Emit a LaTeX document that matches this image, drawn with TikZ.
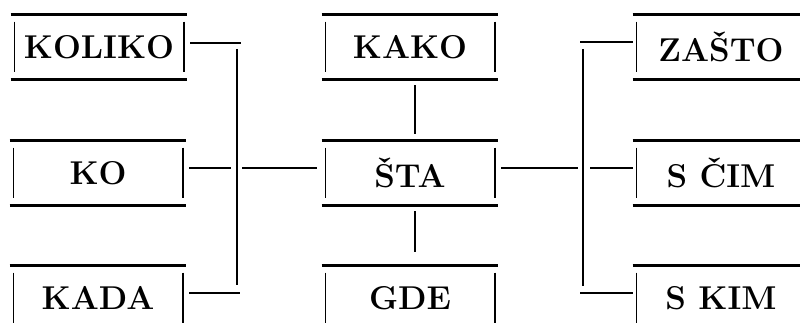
\documentclass[tikz,border=0pt]{standalone}
\usepackage{fontspec}
\begin{document}
\begin{tikzpicture}[x=0.5pt, y=-0.5pt,
        word/.style={minimum width=88pt, minimum height=32pt, inner sep=0pt,
            font=\fontsize{16.5}{18}\selectfont\bfseries},
        rule/.style={line width=1.3pt},
        side/.style={line width=0.8pt},
        link/.style={line width=0.8pt}]

        \useasboundingbox (0,0) rectangle (800,324);

        % Words
        \node[word] (koliko) at (99,47) {KOLIKO};
        \node[word] (ko) at (98,173) {KO};
        \node[word] (kada) at (98,298) {KADA};
        \node[word] (kako) at (410,47) {KAKO};
        \node[word] (sta) at (410,173) {ŠTA};
        \node[word] (gde) at (410,298) {GDE};
        \node[word] (zasto) at (721,47) {ZAŠTO};
        \node[word] (scim) at (721,173) {S ČIM};
        \node[word] (skim) at (721,298) {S KIM};

        % Frames
        \foreach \n in {koliko,ko,kada,kako,sta,gde,zasto,scim,skim} {
            \draw[rule] (\n.north west) -- (\n.north east);
            \draw[rule] (\n.south west) -- (\n.south east);
            \draw[side] ([xshift=2pt,yshift=-3.5pt]\n.north west) -- ([xshift=2pt,yshift=3.5pt]\n.south west);
            \draw[side] ([xshift=-1.75pt,yshift=-3.5pt]\n.north east) -- ([xshift=-1.75pt,yshift=3.5pt]\n.south east);
        }

        % Left fork
        \coordinate (ltop) at (237,49);
        \coordinate (lbot) at (237,285);
        \draw[link] (ltop) -- (lbot);
        \draw[link] ([xshift=1.5pt,yshift=2pt]koliko.east) -- ++(51,0);
        \draw[link] ([xshift=1.5pt,yshift=2.5pt]ko.east) -- ++(42,0);
        \draw[link] ([xshift=1.5pt,yshift=2.5pt]kada.east) -- ++(51,0);
        \draw[link] ([xshift=-2.5pt,yshift=2.5pt]sta.west) -- ++(-75,0);

        % Middle stem
        \draw[link] ([xshift=2.5pt,yshift=-3pt]kako.south) -- ([xshift=2.5pt,yshift=3.5pt]sta.north);
        \draw[link] ([xshift=2.5pt,yshift=-3pt]sta.south) -- ([xshift=2.5pt,yshift=7pt]gde.north);

        % Right fork
        \coordinate (rtop) at (583,49);
        \coordinate (rbot) at (583,286);
        \draw[link] (rtop) -- (rbot);
        \draw[link] ([xshift=1.5pt,yshift=2.5pt]sta.east) -- ++(77,0);
        \draw[link] ([yshift=2.5pt]zasto.west) -- ++(-53,0);
        \draw[link] ([yshift=2.5pt]scim.west) -- ++(-43,0);
        \draw[link] ([yshift=2.5pt]skim.west) -- ++(-53,0);

    \end{tikzpicture}
\end{document}
